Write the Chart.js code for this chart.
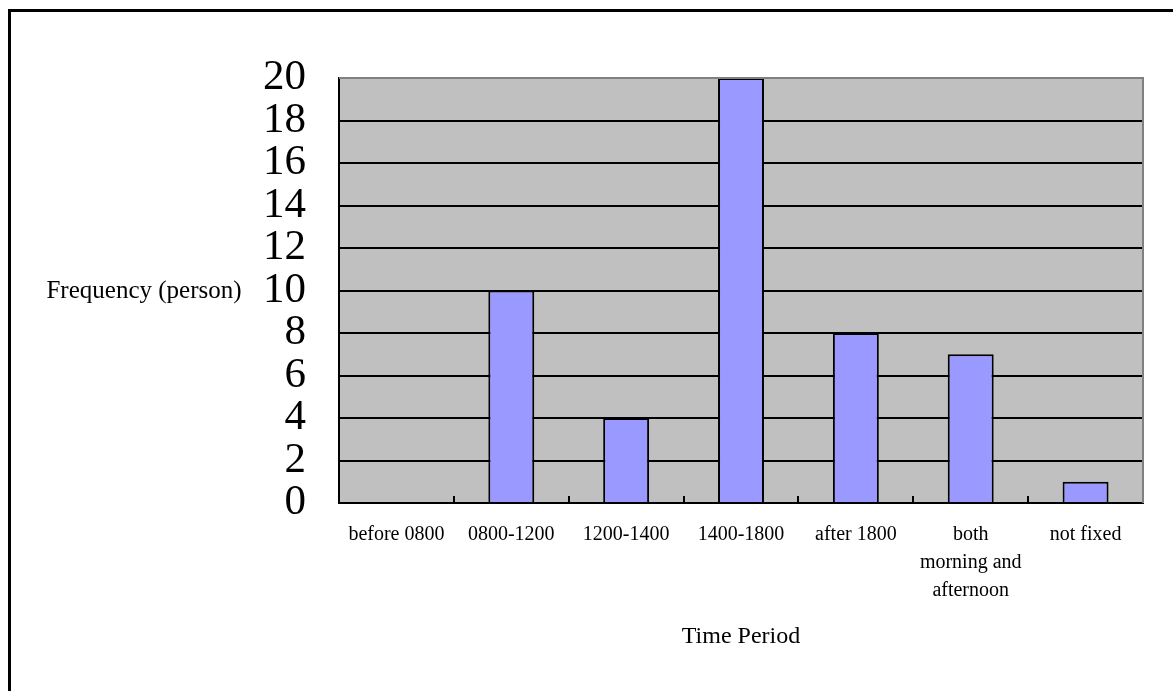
<!DOCTYPE html>
<html>
<head>
<meta charset="utf-8">
<script src="https://cdn.jsdelivr.net/npm/chart.js@4"></script>
<style>
  html, body { margin: 0; padding: 0; background: #fff; overflow: hidden; }
  #frame { position: absolute; left: 8px; top: 9px; width: 1200px; height: 720px; border: 3px solid #000; }
  #bar-chart { position: absolute; left: 0; top: 0; }
</style>
</head>
<body>
<div id="frame"></div>
<canvas id="bar-chart" width="1173" height="691"></canvas>
<script>
// categories (time periods) and counts
var categories = [
  "before 0800",
  "0800-1200",
  "1200-1400",
  "1400-1800",
  "after 1800",
  ["both", "morning and", "afternoon"],
  "not fixed",
];
var frequency = [0, 10, 4, 20, 8, 7, 1];
var yMin = 0, yMax = 20, yStep = 2;
var yTitle = "Frequency (person)";
var xTitle = "Time Period";

var serif = "'Liberation Serif', 'Times New Roman', serif";

// gray plot background + gray top/right border, horizontal y title
var plotDecor = {
  id: "plotDecor",
  beforeDraw: function (chart) {
    var a = chart.chartArea, c = chart.ctx;
    c.save();
    c.fillStyle = "#C0C0C0";
    c.fillRect(a.left, a.top, a.right - a.left, a.bottom - a.top);
    c.restore();
  },
  afterDraw: function (chart) {
    var a = chart.chartArea, c = chart.ctx;
    c.save();
    c.strokeStyle = "#808080";
    c.lineWidth = 2;
    c.beginPath();
    c.moveTo(a.left, a.top);
    c.lineTo(a.right, a.top);
    c.lineTo(a.right, a.bottom);
    c.stroke();
    // y title drawn horizontally, level with the "10" tick
    var y = chart.scales.y.getPixelForValue(10);
    c.fillStyle = "#000";
    c.font = "25px " + serif;
    c.textAlign = "center";
    c.textBaseline = "middle";
    c.fillText(yTitle, 144, y + 1);
    c.restore();
  },
};

var ctx = document.getElementById("bar-chart").getContext("2d");
var chart = new Chart(ctx, {
  type: "bar",
  data: {
    labels: categories,
    datasets: [
      {
        backgroundColor: "#9999FF",
        borderColor: "#000",
        borderWidth: 2,
        data: frequency,
        categoryPercentage: 1,
        barPercentage: 0.4,
      },
    ],
  },
  options: {
    responsive: false,
    animation: false,
    events: [],
    layout: { padding: { left: 0, right: 30, top: 78, bottom: 0 } },
    plugins: {
      legend: { display: false },
      tooltip: { enabled: false },
    },
    scales: {
      x: {
        afterFit: function (s) { s.height = 188; },
        border: { color: "#000", width: 2 },
        grid: {
          display: true,
          drawOnChartArea: false,
          drawTicks: true,
          tickLength: -7,
          color: "#000",
          lineWidth: 2,
        },
        ticks: {
          color: "#000",
          padding: 25,
          maxRotation: 0,
          autoSkip: false,
          font: { family: serif, size: 20, lineHeight: 1.4 },
        },
        title: {
          display: true,
          text: xTitle,
          color: "#000",
          font: { family: serif, size: 24 },
          padding: { top: 0, bottom: 40 },
        },
      },
      y: {
        min: yMin,
        max: yMax,
        afterFit: function (s) { s.width = 339; },
        border: { color: "#000", width: 2 },
        grid: {
          drawTicks: false,
          color: function (c) { return c.tick && c.tick.value === yMax ? "#808080" : "#000"; },
          lineWidth: 2,
        },
        ticks: {
          stepSize: yStep,
          autoSkip: false,
          color: "#000",
          padding: 33,
          font: { family: serif, size: 43 },
        },
      },
    },
  },
  plugins: [plotDecor],
});
</script>
</body>
</html>
